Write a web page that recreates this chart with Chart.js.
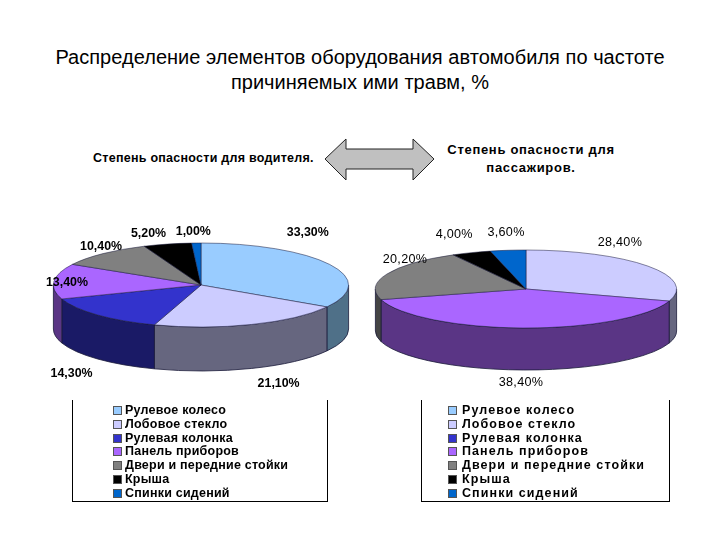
<!DOCTYPE html>
<html lang="ru">
<head>
<meta charset="utf-8">
<title>Травмы</title>
<script src="https://cdn.jsdelivr.net/npm/chart.js@4/dist/chart.umd.min.js"></script>
<style>
  html, body { margin: 0; padding: 0; background: #fff; }
  body { position: relative; width: 720px; height: 540px; overflow: hidden; font-family: "Liberation Sans", Arial, sans-serif; color: #000; }
  canvas { position: absolute; }
  #title { position: absolute; left: 0; top: 45px; width: 720px; text-align: center; font-size: 20px; line-height: 25px; letter-spacing: 0.03px; }
  .note { position: absolute; font-weight: bold; font-size: 13px; white-space: nowrap; }
  #arrow { position: absolute; left: 0; top: 0; }
  .legend { position: absolute; top: 400px; height: 102px; box-sizing: border-box; border: 1px solid #000; border-top: 0; }
  .legend div { position: absolute; white-space: nowrap; font-weight: bold; font-size: 12.5px; line-height: 14px; }
  .legend i { position: absolute; width: 7px; height: 7px; border: 1px solid #555; top: 3px; }
</style>
</head>
<body>
<div id="title">Распределение элементов оборудования автомобиля по частоте<br>причиняемых ими травм, %</div>
<div class="note" style="left:93px; top:151px; font-size:12.5px; letter-spacing:0.26px">Степень опасности для водителя.</div>
<div class="note" style="left:431px; top:141px; width:200px; text-align:center; line-height:18px; white-space:normal; letter-spacing:0.7px">Степень опасности для пассажиров.</div>
<svg id="arrow" width="720" height="200">
  <polygon points="325,159 346,139 346,149 413,149 413,139 434,159 413,180 413,169 346,169 346,180" fill="#c0c0c0" stroke="#222" stroke-width="1"/>
</svg>
<canvas id="graficoConductor" width="340" height="340" style="left:31px; top:115px"></canvas>
<canvas id="graficoPasajero" width="340" height="340" style="left:356px; top:119px"></canvas>
<div class="legend" id="leyendaConductor" style="left:72px; width:256px"></div>
<div class="legend" id="leyendaPasajero" style="left:421px; width:249px"></div>

<script>
const categories = [
    "Рулевое колесо", "Лобовое стекло", "Рулевая колонка", "Панель приборов",
    "Двери и передние стойки", "Крыша", "Спинки сидений"
];
const driverValues = [33.3, 21.1, 14.3, 13.4, 10.4, 5.2, 1.0];
const passengerValues = [0, 28.4, 0, 38.4, 20.2, 4.0, 3.6];

const sliceColors = ['#99ccff', '#ccccff', '#3333cc', '#aa66ff', '#808080', '#000000', '#0066cc'];
const wallColors = ['#4f7088', '#66667f', '#1a1a66', '#5a3585', '#444444', '#000000', '#003366'];

// desplazamiento de cada etiqueta desde el borde de su sector
const driverLabelShift = [[-22, -32], [27, 59], [-26, 59], [13, 1], [-2, -7], [-19, -11], [-3, -11]];
const passengerLabelShift = [null, [-28, -24], null, [-2, 55], [18, -14], [-17, -18], [-2, -18]];

// Tapa elíptica + pared lateral: la tapa es el pie normal aplastado en Y
const pie3d = {
    id: 'pie3d',
    beforeDatasetsDraw(chart, args, opts) {
        const ctx = chart.ctx;
        const arcs = chart.getDatasetMeta(0).data;
        const cx = arcs[0].x, cy = arcs[0].y;
        const rx = arcs[0].outerRadius, ry = opts.ry;

        // solo se ve la mitad delantera (0 a PI)
        arcs.forEach((arc, i) => {
            const a0 = Math.max(arc.startAngle, 0);
            const a1 = Math.min(arc.endAngle, Math.PI);
            if (a1 <= a0) return;
            ctx.beginPath();
            ctx.ellipse(cx, cy, rx, ry, 0, a0, a1);
            ctx.ellipse(cx, cy + opts.depth, rx, ry, 0, a1, a0, true);
            ctx.closePath();
            ctx.fillStyle = wallColors[i];
            ctx.fill();
            ctx.strokeStyle = '#1a1a3a';
            ctx.lineWidth = 0.8;
            ctx.stroke();
        });

        ctx.save();
        ctx.translate(cx, cy);
        ctx.scale(1, ry / rx);
        ctx.translate(-cx, -cy);
    },
    afterDatasetsDraw(chart, args, opts) {
        const ctx = chart.ctx;
        ctx.restore();

        const arcs = chart.getDatasetMeta(0).data;
        const values = chart.data.datasets[0].data;
        const rx = arcs[0].outerRadius;
        ctx.fillStyle = '#000';
        ctx.font = opts.font;
        ctx.letterSpacing = opts.spacing;
        ctx.textAlign = 'center';
        ctx.textBaseline = 'middle';
        arcs.forEach((arc, i) => {
            if (!values[i]) return;
            const mid = (arc.startAngle + arc.endAngle) / 2;
            const x = arc.x + rx * Math.cos(mid) + opts.shift[i][0];
            const y = arc.y + opts.ry * Math.sin(mid) + opts.shift[i][1];
            ctx.fillText(values[i].toFixed(2).replace('.', ',') + '%', x, y);
        });
    }
};

function crearPie(id, valores, padding, opts) {
    return new Chart(document.getElementById(id), {
        type: 'pie',
        data: {
            labels: categories,
            datasets: [{
                data: valores,
                backgroundColor: sliceColors,
                borderColor: '#1a1a3a',
                borderWidth: 0.8,
                clip: false
            }]
        },
        options: {
            responsive: false,
            animation: false,
            layout: { padding: padding },
            plugins: {
                legend: { display: false },
                tooltip: { enabled: false },
                pie3d: opts
            }
        },
        plugins: [pie3d]
    });
}

crearPie('graficoConductor', driverValues, 22, {
    ry: 42, depth: 44, shift: driverLabelShift,
    font: 'bold 12.4px "Liberation Sans"', spacing: '0px'
});
crearPie('graficoPasajero', passengerValues, 19, {
    ry: 39, depth: 42, shift: passengerLabelShift,
    font: '12.6px "Liberation Sans"', spacing: '0.3px'
});

function crearLeyenda(id, swatchX, textX, spacing) {
    const caja = document.getElementById(id);
    categories.forEach((nombre, i) => {
        const fila = document.createElement('div');
        fila.style.left = swatchX + 'px';
        fila.style.top = (3 + i * 13.8) + 'px';
        fila.style.paddingLeft = (textX - swatchX) + 'px';
        fila.style.letterSpacing = spacing;
        fila.textContent = nombre;
        const cuadro = document.createElement('i');
        cuadro.style.left = '0';
        cuadro.style.background = sliceColors[i];
        fila.appendChild(cuadro);
        caja.appendChild(fila);
    });
}
crearLeyenda('leyendaConductor', 40, 52, '0.22px');
crearLeyenda('leyendaPasajero', 26, 40, '1.08px');
</script>
</body>
</html>
